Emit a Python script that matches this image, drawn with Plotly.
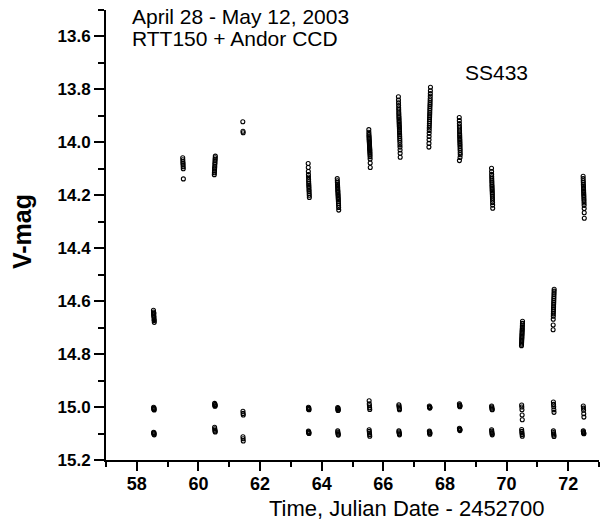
import plotly.graph_objects as go

# ---------------- data: SS433 (per night: time, V-mag) ----------------
t58 = [58.540, 58.543, 58.546, 58.549, 58.552, 58.555, 58.558, 58.561, 58.564, 58.567]
v58 = [14.634, 14.641, 14.648, 14.652, 14.657, 14.645, 14.662, 14.669, 14.673, 14.680]

t59 = [59.490, 59.493, 59.496, 59.499, 59.502, 59.505, 59.508, 59.511]
v59 = [14.058, 14.066, 14.073, 14.079, 14.085, 14.092, 14.100, 14.138]

t60 = [60.515, 60.518, 60.521, 60.524, 60.527, 60.530, 60.533, 60.536, 60.539, 60.542, 60.545, 60.548]
v60 = [14.122, 14.115, 14.108, 14.101, 14.096, 14.090, 14.083, 14.077, 14.070, 14.064, 14.058, 14.052]

t61 = [61.440, 61.446, 61.452]
v61 = [13.922, 13.958, 13.964]

t63 = [63.562, 63.565, 63.567, 63.570, 63.572, 63.575, 63.577, 63.580, 63.582, 63.585, 63.587, 63.590,
       63.592, 63.595, 63.597, 63.600]
v63 = [14.080, 14.095, 14.110, 14.122, 14.131, 14.140, 14.148, 14.155, 14.161, 14.167, 14.173, 14.180,
       14.186, 14.193, 14.200, 14.208]

t64 = [64.505, 64.508, 64.510, 64.513, 64.515, 64.518, 64.520, 64.523, 64.525, 64.528, 64.530, 64.533,
       64.535, 64.538, 64.540, 64.543, 64.545, 64.548, 64.550, 64.553]
v64 = [14.137, 14.145, 14.152, 14.158, 14.163, 14.169, 14.174, 14.180, 14.185, 14.190, 14.196, 14.201,
       14.207, 14.212, 14.218, 14.224, 14.231, 14.238, 14.246, 14.256]

t65 = [65.530, 65.532, 65.534, 65.536, 65.538, 65.540, 65.542, 65.544, 65.546, 65.548, 65.550, 65.552,
       65.554, 65.556, 65.558, 65.560, 65.562, 65.564, 65.566, 65.568, 65.570, 65.572, 65.574, 65.576]
v65 = [13.952, 13.962, 13.970, 13.976, 13.981, 13.986, 13.990, 13.995, 13.999, 14.003, 14.007, 14.011,
       14.015, 14.019, 14.023, 14.027, 14.031, 14.036, 14.041, 14.047, 14.054, 14.063, 14.078, 14.095]

t66 = [66.490, 66.492, 66.494, 66.496, 66.498, 66.500, 66.502, 66.504, 66.506, 66.508, 66.510, 66.512,
       66.514, 66.516, 66.518, 66.520, 66.522, 66.524, 66.526, 66.528, 66.530, 66.532, 66.534, 66.536,
       66.538, 66.540, 66.542, 66.544, 66.546, 66.548]
v66 = [13.828, 13.840, 13.851, 13.861, 13.870, 13.878, 13.886, 13.893, 13.900, 13.906, 13.912, 13.918,
       13.924, 13.930, 13.936, 13.941, 13.947, 13.953, 13.959, 13.965, 13.971, 13.978, 13.985, 13.992,
       14.000, 14.009, 14.018, 14.029, 14.041, 14.056]

t67 = [67.530, 67.528, 67.526, 67.524, 67.522, 67.520, 67.518, 67.516, 67.514, 67.512, 67.510, 67.508,
       67.506, 67.504, 67.502, 67.500, 67.498, 67.496, 67.494, 67.492, 67.490, 67.488, 67.486, 67.484,
       67.482, 67.480]
v67 = [13.792, 13.805, 13.816, 13.826, 13.835, 13.843, 13.851, 13.858, 13.865, 13.872, 13.879, 13.886,
       13.893, 13.900, 13.907, 13.914, 13.921, 13.929, 13.937, 13.946, 13.955, 13.966, 13.978, 13.990,
       14.004, 14.018]

t68 = [68.465, 68.467, 68.469, 68.470, 68.472, 68.474, 68.475, 68.477, 68.479, 68.480, 68.482, 68.484,
       68.485, 68.487, 68.489, 68.490, 68.492, 68.494, 68.495, 68.497, 68.490, 68.470]
v68 = [13.906, 13.918, 13.929, 13.938, 13.946, 13.954, 13.961, 13.968, 13.974, 13.980, 13.986, 13.992,
       13.998, 14.004, 14.010, 14.017, 14.024, 14.031, 14.039, 14.047, 14.057, 14.069]

t69 = [69.512, 69.514, 69.516, 69.518, 69.520, 69.522, 69.524, 69.526, 69.528, 69.530, 69.532, 69.534,
       69.536, 69.538, 69.540, 69.542, 69.544, 69.546, 69.548, 69.550]
v69 = [14.098, 14.110, 14.121, 14.130, 14.138, 14.146, 14.153, 14.160, 14.166, 14.172, 14.178, 14.184,
       14.190, 14.196, 14.203, 14.210, 14.218, 14.227, 14.237, 14.249]

t70 = [70.518, 70.516, 70.514, 70.512, 70.510, 70.508, 70.506, 70.504, 70.502, 70.500, 70.498, 70.496,
       70.494, 70.492, 70.490, 70.488, 70.486, 70.484]
v70 = [14.676, 14.684, 14.691, 14.697, 14.703, 14.708, 14.713, 14.718, 14.723, 14.728, 14.733, 14.738,
       14.743, 14.748, 14.753, 14.758, 14.763, 14.768]

t71 = [71.545, 71.543, 71.541, 71.539, 71.537, 71.535, 71.533, 71.531, 71.529, 71.527, 71.525, 71.523,
       71.521, 71.519, 71.517, 71.515, 71.513, 71.511]
v71 = [14.555, 14.562, 14.569, 14.576, 14.583, 14.590, 14.597, 14.604, 14.611, 14.618, 14.625, 14.632,
       14.640, 14.648, 14.657, 14.668, 14.690, 14.708]

t72 = [72.485, 72.487, 72.489, 72.491, 72.493, 72.495, 72.497, 72.499, 72.501, 72.503, 72.505, 72.507,
       72.509, 72.511, 72.513, 72.515, 72.517, 72.519, 72.521, 72.523]
v72 = [14.128, 14.137, 14.145, 14.152, 14.159, 14.165, 14.171, 14.177, 14.183, 14.189, 14.195, 14.201,
       14.207, 14.214, 14.221, 14.229, 14.238, 14.250, 14.266, 14.287]

# ---------------- data: comparison stars ----------------
comp_t = [58.545, 58.550, 58.555, 58.560, 58.565,
          60.525, 60.530, 60.535, 60.540, 60.545,
          61.445, 61.450, 61.455,
          63.570, 63.575, 63.580, 63.585, 63.590,
          64.520, 64.525, 64.530, 64.535, 64.540,
          65.540, 65.545, 65.550, 65.555, 65.560,
          66.505, 66.510, 66.515, 66.520, 66.525,
          67.495, 67.500, 67.505, 67.510, 67.515,
          68.470, 68.475, 68.480, 68.485, 68.490,
          69.515, 69.520, 69.525, 69.530, 69.535,
          70.490, 70.495, 70.500, 70.505, 70.510,
          71.520, 71.525, 71.530, 71.535, 71.540,
          72.490, 72.495, 72.500, 72.505, 72.510]
comp1_v = [15.001, 15.006, 15.009, 15.004, 15.011,
           14.986, 14.992, 14.997, 14.990, 14.995,
           15.016, 15.024, 15.030,
           15.001, 15.006, 15.009, 15.004, 15.010,
           15.002, 15.008, 15.013, 15.005, 15.011,
           14.976, 14.988, 14.995, 15.003, 15.009,
           14.991, 14.996, 15.001, 15.006, 15.010,
           14.996, 14.999, 15.002, 15.004, 15.001,
           14.988, 14.992, 14.996, 14.999, 14.994,
           14.996, 15.000, 15.004, 15.008, 15.010,
           14.992, 15.000, 15.010, 15.030, 15.048,
           14.981, 14.990, 14.999, 15.010, 15.020,
           14.996, 15.004, 15.012, 15.025, 15.038]
comp2_v = [15.095, 15.099, 15.102, 15.097, 15.105,
           15.076, 15.082, 15.087, 15.091, 15.094,
           15.112, 15.120, 15.128,
           15.091, 15.095, 15.098, 15.094, 15.100,
           15.090, 15.095, 15.099, 15.103, 15.106,
           15.086, 15.092, 15.098, 15.104, 15.110,
           15.090, 15.094, 15.098, 15.101, 15.105,
           15.091, 15.095, 15.099, 15.103, 15.097,
           15.080, 15.083, 15.086, 15.089, 15.085,
           15.086, 15.091, 15.096, 15.101, 15.105,
           15.085, 15.092, 15.098, 15.104, 15.110,
           15.090, 15.096, 15.101, 15.106, 15.111,
           15.090, 15.093, 15.096, 15.099, 15.101]

x_ticks = [58, 60, 62, 64, 66, 68, 70, 72]
x_minor = [57, 59, 61, 63, 65, 67, 69, 71, 73]
y_ticks = [13.6, 13.8, 14.0, 14.2, 14.4, 14.6, 14.8, 15.0, 15.2]
y_tick_text = ["13.6", "13.8", "14.0", "14.2", "14.4", "14.6", "14.8", "15.0", "15.2"]
y_minor = [13.5, 13.7, 13.9, 14.1, 14.3, 14.5, 14.7, 14.9, 15.1]

ss_t = t58 + t59 + t60 + t61 + t63 + t64 + t65 + t66 + t67 + t68 + t69 + t70 + t71 + t72
ss_v = v58 + v59 + v60 + v61 + v63 + v64 + v65 + v66 + v67 + v68 + v69 + v70 + v71 + v72

FONT = "Liberation Sans, Arial, Helvetica, sans-serif"
marker = dict(symbol="circle-open", size=4, color="black", line=dict(width=1.1, color="black"))

fig = go.Figure()
fig.add_trace(go.Scatter(x=ss_t, y=ss_v, mode="markers", marker=marker, name="SS433"))
fig.add_trace(go.Scatter(x=comp_t, y=comp1_v, mode="markers", marker=marker, name="comp1"))
fig.add_trace(go.Scatter(x=comp_t, y=comp2_v, mode="markers", marker=marker, name="comp2"))

L, R, T, B = 106, 1, 10, 68
W, H = 600, 528
PW, PH = W - L - R, H - T - B


def px(xp):
    return (xp - L) / PW


def py(yp):
    return (H - B - yp) / PH


fig.update_layout(
    width=W, height=H,
    margin=dict(l=L, r=R, t=T, b=B),
    plot_bgcolor="white", paper_bgcolor="white",
    showlegend=False,
    font=dict(family=FONT, color="black"),
    xaxis=dict(
        range=[57, 73], tickvals=x_ticks, ticks="outside", ticklen=9, tickwidth=2,
        tickcolor="black", showline=True, linewidth=2, linecolor="black",
        showgrid=False, zeroline=False, ticklabelstandoff=-3,
        tickfont=dict(family=FONT, size=18, color="black", weight="bold"),
        minor=dict(tickvals=x_minor, ticks="outside", ticklen=5, tickwidth=2, tickcolor="black",
                   showgrid=False),
    ),
    yaxis=dict(
        range=[15.2, 13.5], tickvals=y_ticks, ticktext=y_tick_text, ticks="outside", ticklen=10,
        tickwidth=2, tickcolor="black", showline=True, linewidth=2, linecolor="black",
        showgrid=False, zeroline=False,
        tickfont=dict(family=FONT, size=17, color="black", weight="bold"),
        minor=dict(tickvals=y_minor, ticks="outside", ticklen=6, tickwidth=2, tickcolor="black",
                   showgrid=False),
    ),
    annotations=[
        dict(text="Time, Julian Date - 2452700", xref="paper", yref="paper",
             x=px(407), y=py(508), xanchor="center", yanchor="middle", showarrow=False,
             font=dict(family=FONT, size=22, color="black")),
        dict(text="V-mag", xref="paper", yref="paper", textangle=-90,
             x=px(22), y=py(232), xanchor="center", yanchor="middle", showarrow=False,
             font=dict(family=FONT, size=25, color="black", weight="bold")),
        dict(text="April 28 - May 12, 2003", xref="paper", yref="paper",
             x=px(130), y=py(17), xanchor="left", yanchor="middle", showarrow=False,
             font=dict(family=FONT, size=21, color="black")),
        dict(text="RTT150 + Andor CCD", xref="paper", yref="paper",
             x=px(130), y=py(39), xanchor="left", yanchor="middle", showarrow=False,
             font=dict(family=FONT, size=21, color="black")),
        dict(text="SS433", xref="paper", yref="paper",
             x=px(463), y=py(72), xanchor="left", yanchor="middle", showarrow=False,
             font=dict(family=FONT, size=21, color="black")),
    ],
)

fig.write_html("out.html")
